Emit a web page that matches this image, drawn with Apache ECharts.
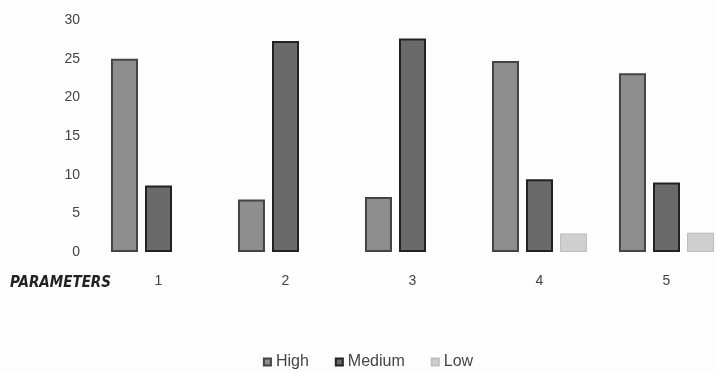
<!DOCTYPE html>
<html><head><meta charset="utf-8">
<script src="https://cdn.jsdelivr.net/npm/echarts@6/dist/echarts.min.js"></script>
<style>html,body{margin:0;padding:0;background:#fdfdfd;overflow:hidden}#c{width:736px;height:372px}</style>
</head><body><div id="c"></div>
<script>
var categories = ['1','2','3','4','5'];
var high = [25, 6.8, 7.1, 24.7, 23.1];
var medium = [8.6, 27.3, 27.6, 9.4, 9.0];
var low = ['-', '-', '-', 2.4, 2.5];
var yTicks = [0, 5, 10, 15, 20, 25, 30];

var chart = echarts.init(document.getElementById('c'));
chart.setOption({
  backgroundColor: '#fdfdfd',
  animation: false,
  grid: {left: 95, top: 20, right: 6, height: 232},
  legend: {
    top: 349, left: 'center', itemWidth: 7, itemHeight: 7, itemGap: 26,
    icon: 'rect',
    textStyle: {color: '#444', fontSize: 16, fontFamily: 'Liberation Sans'},
    data: ['High', 'Medium', 'Low']
  },
  graphic: [{type: 'text', left: 10, top: 276,
    style: {text: 'PARAMETERS', fill: '#222', font: 'italic bold 15px "DejaVu Sans Condensed", sans-serif'}}],
  xAxis: {
    type: 'category', data: categories,
    axisLine: {show: false}, axisTick: {show: false},
    axisLabel: {color: '#444', fontSize: 14, margin: 22, fontFamily: 'Liberation Sans'}
  },
  yAxis: {
    type: 'value', min: 0, max: 30, interval: 5,
    axisLine: {show: false}, axisTick: {show: false},
    splitLine: {show: false},
    axisLabel: {color: '#444', fontSize: 14, margin: 15, fontFamily: 'Liberation Sans',
      formatter: function(v){ return yTicks.indexOf(v) >= 0 ? String(v) : ''; }}
  },
  series: [
    {name: 'High', type: 'bar', data: high, barWidth: 27, barGap: '26%',
      itemStyle: {color: '#8e8e8e', borderColor: '#444', borderWidth: 2}},
    {name: 'Medium', type: 'bar', data: medium, barWidth: 27,
      itemStyle: {color: '#6a6a6a', borderColor: '#222', borderWidth: 2}},
    {name: 'Low', type: 'bar', data: low, barWidth: 27,
      itemStyle: {color: '#cfcfcf', borderColor: '#bdbdbd', borderWidth: 1}}
  ]
});
</script></body></html>
